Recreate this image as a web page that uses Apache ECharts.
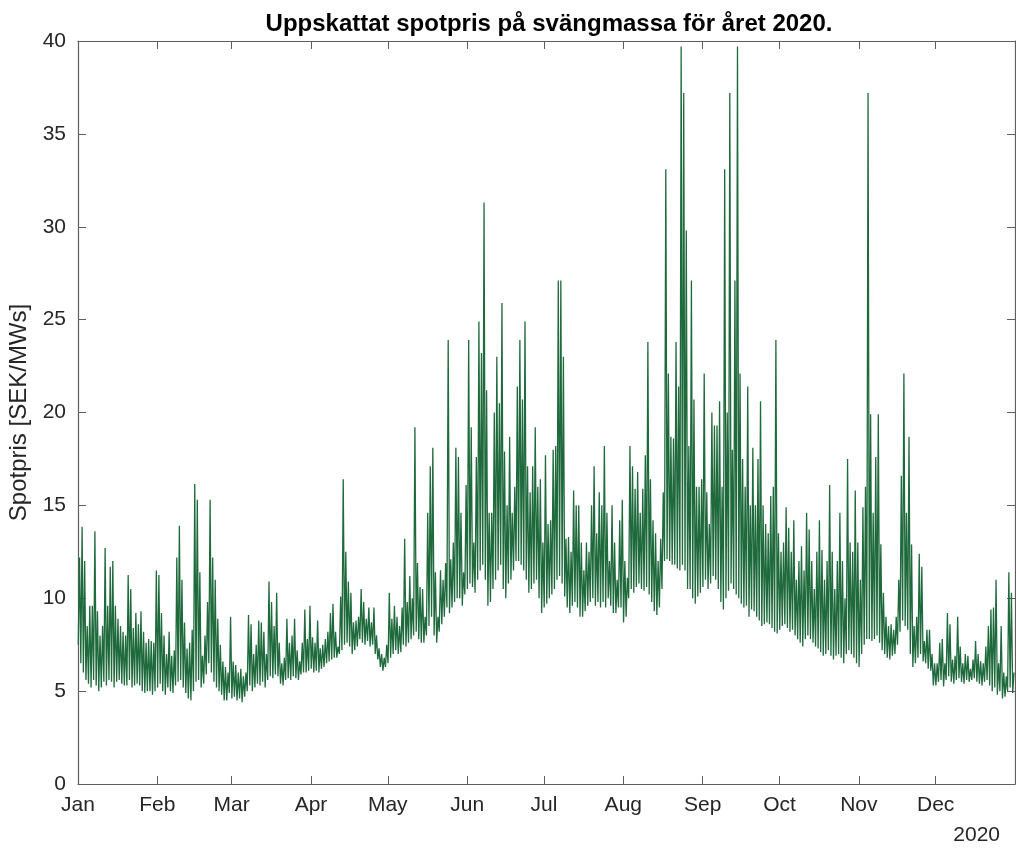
<!DOCTYPE html>
<html>
<head>
<meta charset="utf-8">
<script src="https://cdn.jsdelivr.net/npm/echarts@6/dist/echarts.min.js"></script>
<style>
html,body{margin:0;padding:0;background:#fff;}
#chart{width:1016px;height:851px;}
</style>
</head>
<body>
<div id="chart"></div>
<script>
// Tick labels
const monthLabels = ['Jan','Feb','Mar','Apr','May','Jun','Jul','Aug','Sep','Oct','Nov','Dec'];
const monthLengths = [31,29,31,30,31,30,31,31,30,31,30,31];
const yearLabel = '2020';

// Daily low (night) and high (daily peak) spot price [SEK/MWs]
const janLo = [7.5,6.5,6.0,5.6,5.4,5.2,5.6,5.3,5.0,5.2,5.5,5.3,5.6,5.5,5.2,5.5,5.6,5.4,5.3,5.3,5.6,5.2,5.3,5.4,5.3,5.0,4.9,5.0,5.0,4.8,5.0];
const janHi = [12.2,13.85,12.0,8.5,9.6,9.6,13.6,9.3,8.0,8.5,12.7,9.6,11.7,12.0,9.6,8.9,8.5,8.2,8.0,11.25,10.5,8.4,9.2,8.6,9.3,8.2,7.6,7.8,7.7,7.6,11.5];
const febLo = [5.2,5.4,5.0,4.8,5.2,5.0,4.9,5.3,5.5,5.6,5.2,4.9,4.6,4.5,5.0,5.5,5.6,5.2,5.4,5.9,6.5,6.0,5.5,5.2,5.0,4.8,4.5,4.5,4.9];
const febHi = [11.25,9.2,8.0,7.0,8.2,6.9,7.2,12.2,13.9,11.0,8.7,7.3,7.6,8.3,16.15,15.3,11.4,6.9,8.0,9.8,15.3,12.2,11.0,8.9,7.5,6.6,6.3,6.0,9.0];
const marLo = [4.6,4.7,4.5,4.6,4.4,4.7,5.0,5.3,5.0,5.2,5.4,5.3,5.5,5.2,5.6,5.8,5.7,5.9,5.8,5.4,5.3,5.6,5.7,5.6,5.8,5.7,5.6,5.9,6.0,6.0,6.1];
const marHi = [6.6,6.4,6.0,6.2,5.8,6.0,9.1,8.6,7.0,7.5,8.8,8.7,8.2,7.0,10.9,9.8,8.5,10.3,7.6,6.5,6.8,8.9,7.6,8.0,8.9,7.2,6.6,7.6,9.4,7.8,9.6];
const aprLo = [6.2,6.0,6.1,6.0,6.2,6.3,6.5,6.6,6.7,6.8,6.8,7.0,7.2,7.5,7.6,7.4,7.0,7.2,7.4,7.8,7.6,7.5,7.7,7.4,7.5,7.0,6.7,6.3,6.1,6.3];
const aprHi = [7.9,7.6,8.8,7.3,7.5,7.8,8.2,9.2,9.7,8.2,7.4,10.1,16.4,12.5,10.9,10.3,8.7,8.8,9.0,10.5,9.8,8.9,9.5,8.7,9.5,8.0,7.3,7.0,6.8,7.5];
const mayLo = [6.5,6.8,7.0,7.2,7.0,7.1,7.5,7.4,7.6,7.8,8.0,8.2,7.8,7.6,7.6,8.0,8.5,9.0,8.0,7.6,8.2,8.6,9.0,9.5,9.2,9.5,9.8,10.0,10.0,9.6,10.2];
const mayHi = [10.3,8.9,9.6,9.0,8.5,9.5,13.2,9.8,11.2,10.0,19.2,11.9,10.6,10.5,9.0,14.6,17.1,18.1,11.4,9.0,11.5,11.0,11.9,23.9,12.1,13.0,18.1,17.6,14.6,11.4,16.1];
const junLo = [10.5,10.8,10.6,10.3,11.0,11.5,11.8,11.0,9.6,9.8,10.5,11.0,11.5,11.8,10.5,10.0,10.8,11.0,11.5,12.0,12.0,11.8,11.5,11.0,10.3,10.5,10.8,11.0,10.0,9.2];
const junHi = [23.9,19.2,13.0,17.6,24.9,23.2,31.3,21.2,14.6,14.6,20.0,23.0,20.5,25.9,17.9,15.0,18.7,14.6,16.0,21.4,23.9,20.7,24.9,17.1,15.7,17.1,19.2,16.0,16.4,13.0];
const julLo = [9.5,9.7,10.0,10.2,10.5,11.0,11.2,10.8,10.1,9.5,9.2,9.6,9.8,9.5,9.0,9.0,9.3,9.6,9.8,10.0,9.6,9.8,9.5,9.8,9.5,10.0,9.6,9.2,9.2,9.5,9.5];
const julHi = [17.7,14.0,14.2,18.0,18.2,27.1,27.1,23.0,13.2,13.3,12.5,15.8,15.0,15.0,13.0,11.5,13.0,12.5,15.0,17.1,13.5,15.7,15.0,18.2,14.6,12.0,15.0,13.0,11.0,14.2,15.3];
const augLo = [8.7,9.0,10.0,10.5,10.3,10.6,10.8,10.5,10.4,10.6,10.2,9.8,9.3,9.1,9.5,10.5,12.0,12.1,12.0,11.8,11.8,11.6,11.5,11.8,11.5,10.5,10.5,10.0,9.7,10.1,10.3];
const augHi = [12.0,11.1,18.2,17.1,15.9,16.8,14.6,15.9,17.7,23.8,16.4,14.2,13.5,12.0,13.2,15.7,33.1,22.1,18.7,18.6,23.8,21.4,39.7,37.2,29.8,18.2,27.1,20.7,16.0,16.0,16.4];
const sepLo = [10.6,11.0,10.5,10.8,11.2,11.0,10.5,9.8,9.4,10.0,10.4,10.8,10.5,10.2,10.0,9.7,9.5,9.6,9.0,9.4,9.3,9.0,8.8,8.5,8.6,8.7,8.6,8.4,8.2,8.1];
const sepHi = [22.1,15.7,14.0,20.0,19.3,19.3,20.6,16.0,33.1,20.0,37.2,18.0,27.1,39.7,22.1,17.5,16.0,21.4,15.0,18.1,15.0,17.5,20.6,15.0,14.0,13.5,15.5,16.0,23.9,13.5];
const octLo = [8.3,8.5,8.6,8.4,8.2,8.3,8.0,7.8,7.6,7.4,7.8,8.0,7.8,7.6,7.4,7.3,7.1,6.9,7.0,7.2,6.9,6.7,6.9,7.0,6.8,6.5,7.0,7.2,7.0,6.8,6.5];
const octHi = [12.5,13.0,14.9,13.8,12.5,14.2,11.0,12.0,12.8,11.5,14.6,13.7,12.0,10.5,12.5,14.2,12.6,11.0,12.0,16.1,12.5,10.5,12.0,14.6,12.0,10.0,17.5,13.0,12.5,15.8,13.0];
const novLo = [6.3,7.0,7.5,7.8,7.8,7.7,7.8,8.0,7.6,7.2,7.0,6.8,6.7,6.9,7.0,7.5,8.2,8.8,8.5,8.3,7.0,6.3,6.5,6.8,7.0,6.6,6.5,6.2,6.1,5.3];
const novHi = [11.0,14.9,16.0,37.2,19.9,14.6,17.6,19.9,12.9,10.3,9.0,8.5,8.6,8.3,9.0,11.0,16.6,22.1,14.6,18.7,12.9,8.5,9.0,12.4,11.7,7.7,8.3,8.3,7.0,6.5];
const decLo = [5.3,5.5,5.6,5.25,5.6,5.8,5.5,5.4,5.6,5.7,5.5,5.4,5.6,5.5,5.6,5.7,5.5,5.4,5.3,5.5,5.6,5.3,5.0,5.2,4.8,5.0,4.6,4.7,5.0,5.2,4.9];
const decHi = [6.5,7.6,7.8,6.5,9.2,8.6,6.7,6.9,9.0,7.4,6.5,7.0,6.9,6.2,6.7,7.7,7.0,6.6,6.5,7.4,8.5,9.4,9.5,11.0,6.5,8.5,6.0,5.8,11.4,10.3,6.0];

const lowByMonth = [janLo,febLo,marLo,aprLo,mayLo,junLo,julLo,augLo,sepLo,octLo,novLo,decLo];
const highByMonth = [janHi,febHi,marHi,aprHi,mayHi,junHi,julHi,augHi,sepHi,octHi,novHi,decHi];

// Build series: x = day of year (fractional), y = price
const monthStarts = [];
let acc = 0;
monthLengths.forEach(function(n){ monthStarts.push(acc); acc += n; });
const totalDays = acc;

const seriesData = [];
lowByMonth.forEach(function(lo, m){
  const hi = highByMonth[m];
  for (let i = 0; i < lo.length; i++) {
    const d = monthStarts[m] + i;
    seriesData.push([d + 0.1, lo[i]]);
    seriesData.push([d + 0.6, hi[i]]);
  }
});

const FONT = '"Liberation Sans", Arial, Helvetica, sans-serif';
const TXT = '#262626';
const AX = '#5e5e5e';

const chart = echarts.init(document.getElementById('chart'), null, {renderer: 'canvas'});
chart.setOption({
  animation: false,
  backgroundColor: '#ffffff',
  title: {
    text: 'Uppskattat spotpris på svängmassa för året 2020.',
    left: 544, top: 7, textAlign: 'center',
    textStyle: {fontFamily: FONT, fontSize: 24, fontWeight: 'bold', color: '#000'}
  },
  grid: {left: 78, right: 1, top: 41, bottom: 67, outerBoundsMode: 'none', containLabel: false},
  xAxis: [{
    type: 'value', min: 0, max: totalDays, position: 'bottom',
    axisLine: {show: true, onZero: false, lineStyle: {color: AX, width: 1.2}},
    axisTick: {show: true, inside: true, length: 8, customValues: monthStarts, lineStyle: {color: AX, width: 1}},
    axisLabel: {show: true, customValues: monthStarts, margin: 11, fontFamily: FONT, fontSize: 21, color: TXT,
      formatter: function(v){ const i = monthStarts.indexOf(Math.round(v)); return i >= 0 ? monthLabels[i] : ''; }},
    splitLine: {show: false}
  }, {
    type: 'value', min: 0, max: totalDays, position: 'top',
    axisLine: {show: true, onZero: false, lineStyle: {color: AX, width: 1.2}},
    axisTick: {show: true, inside: true, length: 8, customValues: monthStarts, lineStyle: {color: AX, width: 1}},
    axisLabel: {show: false},
    splitLine: {show: false}
  }],
  yAxis: [{
    type: 'value', min: 0, max: 40, interval: 5, position: 'left',
    name: 'Spotpris [SEK/MWs]', nameLocation: 'middle', nameGap: 42, nameRotate: 90,
    nameTextStyle: {fontFamily: FONT, fontSize: 24, color: TXT},
    axisLine: {show: true, onZero: false, lineStyle: {color: AX, width: 1.2}},
    axisTick: {show: true, inside: true, length: 8, lineStyle: {color: AX, width: 1}},
    axisLabel: {margin: 12, fontFamily: FONT, fontSize: 21, color: TXT},
    splitLine: {show: false}
  }, {
    type: 'value', min: 0, max: 40, interval: 5, position: 'right',
    axisLine: {show: true, onZero: false, lineStyle: {color: AX, width: 1.2}},
    axisTick: {show: true, inside: true, length: 8, lineStyle: {color: AX, width: 1}},
    axisLabel: {show: false},
    splitLine: {show: false}
  }],
  graphic: [{
    type: 'text', right: 16, top: 825,
    style: {text: yearLabel, fontFamily: FONT, fontSize: 21, fill: TXT}
  }],
  series: [{
    type: 'line', xAxisIndex: 0, yAxisIndex: 0,
    data: seriesData, showSymbol: false, symbol: 'none', sampling: null,
    lineStyle: {color: '#1f6a3c', width: 1.3},
    emphasis: {disabled: true}
  }]
});
</script>
</body>
</html>
